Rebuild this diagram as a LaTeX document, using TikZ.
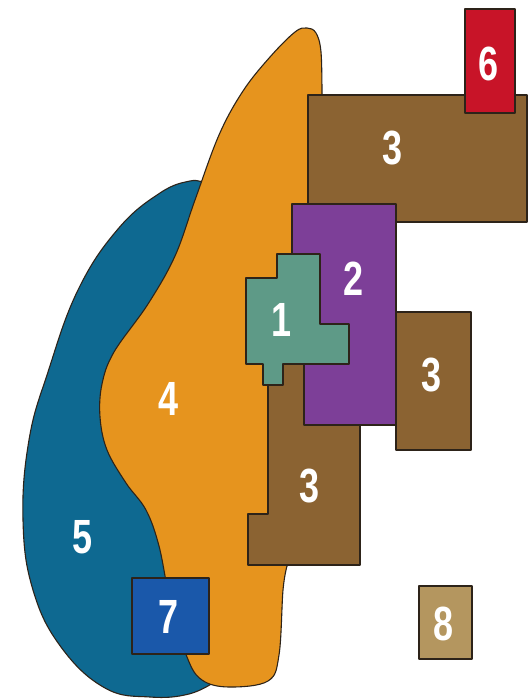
\documentclass[tikz,border=0pt]{standalone}
\usepackage{fontspec}
\setmainfont{Liberation Sans}
\usepackage{xcolor}
\usepackage{tikz}
\usetikzlibrary{positioning}
\definecolor{orangeC}{RGB}{230,148,30}
\definecolor{tealblueC}{RGB}{14,105,145}
\definecolor{brownC}{RGB}{139,99,50}
\definecolor{redC}{RGB}{200,20,40}
\definecolor{purpleC}{RGB}{125,63,152}
\definecolor{greenC}{RGB}{94,154,135}
\definecolor{blueC}{RGB}{26,88,170}
\definecolor{tanC}{RGB}{180,150,95}
\definecolor{edgeC}{RGB}{45,35,25}
\begin{document}
\begin{tikzpicture}[x=1pt, y=-1pt, region/.style={draw=edgeC, line width=1.1pt, line join=round}, num/.style={text=white, font=\bfseries\fontsize{48}{48}\selectfont, inner sep=0pt}]
\useasboundingbox (0,0) rectangle (529,699);
\fill[white] (0,0) rectangle (529,699);
\filldraw[region, fill=tealblueC] plot[smooth, tension=0.7] coordinates {(216,681) (189,694) (150,697) (105,688) (61,647) (33,590) (23,520) (29,440) (48,372) (78,290) (118,229) (160,193) (190,181) (204,183)} -- (238,205) -- (238,640) -- cycle;
\filldraw[region, fill=orangeC] (322,95) -- (322,540) -- (287,566) -- plot[smooth, tension=0.6] coordinates {(287,566) (283,590) (279,655) (268,681) (229,687) (202,680) (187,657) (170,600) (159,546) (146,510) (126,483) (107,450) (100,417) (102,384) (114,352) (148,304) (175,256) (195,200) (219,135) (243,91) (270,57) (295,32) (307,28) (316,33) (321,52) (322,95)} -- cycle;
\filldraw[region, fill=brownC] (308,95) rectangle (527,222);
\filldraw[region, fill=redC] (465,9) rectangle (515,113);
\filldraw[region, fill=brownC] (396,312) rectangle (471,450);
\filldraw[region, fill=brownC] (268,355) -- (360,355) -- (360,565) -- (248,565) -- (248,514) -- (268,514) -- cycle;
\filldraw[region, fill=purpleC] (292,204) -- (396,204) -- (396,425) -- (304,425) -- (304,350) -- (292,350) -- cycle;
\filldraw[region, fill=greenC] (277,254) -- (320,254) -- (320,324) -- (349,324) -- (349,364) -- (283,364) -- (283,385) -- (263,385) -- (263,364) -- (246,364) -- (246,278) -- (277,278) -- cycle;
\filldraw[region, fill=blueC] (132,578) rectangle (209,654);
\filldraw[region, fill=tanC] (419,586) rectangle (472,659);
\node[num] (n6) at (489,64) {\scalebox{0.75}[1]{6}};
\node[num] (n3a) at (393,148) {\scalebox{0.75}[1]{3}};
\node[num] (n2) at (354,279) {\scalebox{0.75}[1]{2}};
\node[num] (n1) at (282,320) {\scalebox{0.75}[1]{1}};
\node[num] (n3b) at (432,375) {\scalebox{0.75}[1]{3}};
\node[num] (n4) at (169,399) {\scalebox{0.75}[1]{4}};
\node[num] (n3c) at (310,486) {\scalebox{0.75}[1]{3}};
\node[num] (n5) at (83,537) {\scalebox{0.75}[1]{5}};
\node[num] (n7) at (169,617) {\scalebox{0.75}[1]{7}};
\node[num] (n8) at (444,624) {\scalebox{0.75}[1]{8}};
\end{tikzpicture}
\end{document}
